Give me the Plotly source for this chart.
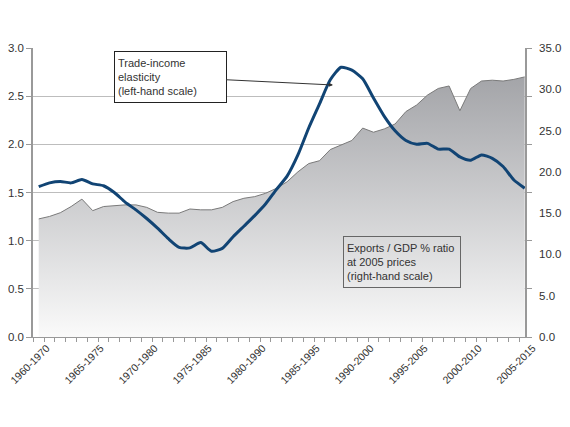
import plotly.graph_objects as go

# rolling ten-year windows, 1960-1970 ... 2005-2015
periods = [f"{y}-{y + 10}" for y in range(1960, 2006)]

# trade-income elasticity (left-hand scale)
elasticity = [1.56, 1.60, 1.615, 1.60, 1.635, 1.59, 1.57, 1.50, 1.40, 1.32,
              1.23, 1.13, 1.02, 0.93, 0.925, 0.98, 0.89, 0.92, 1.04, 1.15,
              1.26, 1.38, 1.53, 1.67, 1.89, 2.17, 2.42, 2.67, 2.80, 2.77,
              2.68, 2.48, 2.29, 2.14, 2.04, 2.00, 2.01, 1.95, 1.95, 1.87,
              1.835, 1.89, 1.855, 1.77, 1.63, 1.545]

# exports / GDP % ratio at 2005 prices (right-hand scale)
export_ratio = [14.3, 14.6, 15.05, 15.8, 16.7, 15.3, 15.8, 15.9, 16.0, 16.0,
                15.7, 15.1, 15.0, 15.0, 15.5, 15.4, 15.4, 15.7, 16.4, 16.8,
                17.0, 17.4, 18.0, 18.8, 20.0, 21.0, 21.35, 22.7, 23.25, 23.8,
                25.3, 24.8, 25.2, 25.8, 27.3, 28.1, 29.3, 30.1, 30.4, 27.4,
                30.1, 31.0, 31.1, 31.0, 31.2, 31.5]

idx = list(range(len(periods)))
fam = "Liberation Sans, Arial"
font = dict(family=fam, size=11.5, color="#333333")
xfont = dict(family=fam, size=10.5, color="#333333")
boxfont = dict(family=fam, size=11, color="#333333")

fig = go.Figure()

# area goes on the base axis (right side) so the line sits on top of it
fig.add_trace(go.Scatter(
    x=idx, y=export_ratio, yaxis="y", mode="lines",
    line=dict(color="#7a7a7a", width=1),
    fill="tozeroy",
    fillgradient=dict(type="vertical", start=0, stop=32,
                      colorscale=[[0, "#fafafa"], [1, "#a2a3a7"]]),
    showlegend=False, hoverinfo="skip",
))

fig.add_trace(go.Scatter(
    x=idx, y=elasticity, yaxis="y2", mode="lines",
    line=dict(color="#114474", width=3, shape="spline", smoothing=0.6),
    showlegend=False,
))

# page body has an 8px margin, so the figure is a bit smaller than the window
fig.update_layout(
    width=562, height=419,
    margin=dict(l=25, r=45, t=40, b=90),
    paper_bgcolor="white", plot_bgcolor="white",
    font=font,
    xaxis=dict(
        range=[-0.53, 45.03], automargin=False,
        tickvals=idx[::5], ticktext=periods[::5], ticklabeloverflow="allow",
        tickangle=-45, ticks="", ticklabelshift=8,
        minor=dict(tickvals=[i - 0.5 for i in idx], ticks="outside",
                   ticklen=4, tickcolor="#999999"),
        showline=True, linecolor="#999999", linewidth=1,
        showgrid=False, zeroline=False, tickfont=xfont,
    ),
    yaxis=dict(
        side="right", range=[0, 35], dtick=5, tickformat=".1f",
        automargin=False, ticklabelstandoff=10,
        ticks="", showgrid=False, zeroline=False,
        minor=dict(tickvals=[35 / 6 * k for k in range(7)], ticks="outside",
                   ticklen=5, tickcolor="#999999"),
        showline=True, linecolor="#999999", linewidth=1.5,
        tickfont=font,
    ),
    yaxis2=dict(
        side="left", overlaying="y", range=[0, 3], dtick=0.5, tickformat=".1f",
        automargin=False,
        ticks="outside", ticklen=5, tickcolor="#999999",
        showgrid=True, gridcolor="#bdbdbd", gridwidth=1,
        showline=True, linecolor="#999999", linewidth=1.5,
        zeroline=False, tickfont=font,
    ),
)

# label boxes
fig.add_annotation(
    xref="paper", yref="paper", x=0.6098, y=0.872,
    ax=-163, ay=-8,
    text="Trade-income<br>elasticity<br>(left-hand scale)",
    align="left", showarrow=True, arrowhead=2, arrowsize=0.8,
    arrowwidth=1, arrowcolor="#333333", standoff=0,
    bordercolor="#222222", borderwidth=1, borderpad=3, bgcolor="white",
    width=105, height=44, font=boxfont,
)
fig.add_annotation(
    xref="paper", yref="paper", x=(402 - 33) / 492, y=(337 - 262) / 289,
    xanchor="center", yanchor="middle",
    text="Exports / GDP % ratio<br>at 2005 prices<br>(right-hand scale)",
    align="left", showarrow=False,
    bordercolor="#666666", borderwidth=1, borderpad=3,
    width=110, height=44, font=boxfont,
)

fig.write_html("out.html")
